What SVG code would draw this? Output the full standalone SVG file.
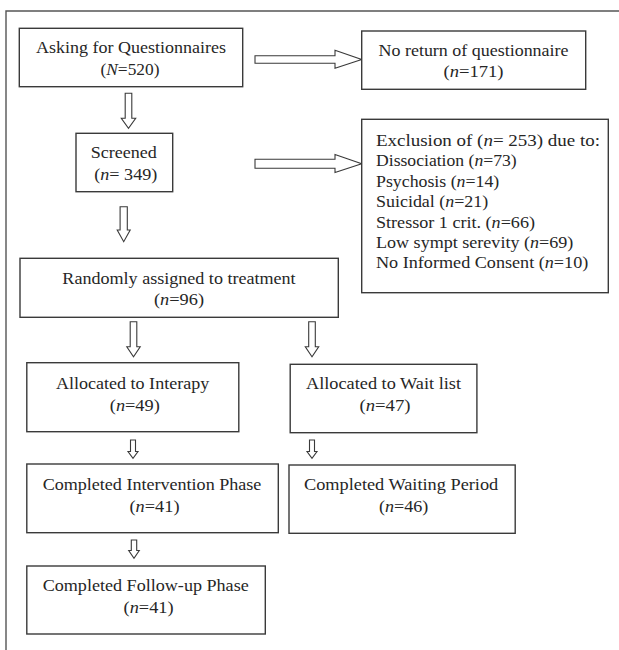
<svg xmlns="http://www.w3.org/2000/svg" width="619" height="650" viewBox="0 0 619 650">
<style>
.bg{fill:#ffffff}
.frame{fill:none;stroke:#555;stroke-width:1.4}
.box{fill:#ffffff;stroke:#3a3a3a;stroke-width:1.4}
.arr{fill:#ffffff;stroke:#3a3a3a;stroke-width:1.1;stroke-linejoin:miter}
text{font-family:"Liberation Serif","Times New Roman",serif;font-size:16px;fill:#262626}
.c{text-anchor:middle}
.i{font-style:italic}
</style>
<rect class="bg" x="0" y="0" width="619" height="650"/>
<path class="frame" d="M6 650 V11 H619"/>

<g id="connectors">
  <polygon class="arr" points="125.2,93.3 131.8,93.3 131.8,118.3 135.7,118.3 128.5,128.3 121.3,118.3 125.2,118.3"/>
  <polygon class="arr" points="120.1,206.7 127.3,206.7 127.3,230 130.2,230 123.7,241.7 117.2,230 120.1,230"/>
  <polygon class="arr" points="130.2,321.7 136.8,321.7 136.8,346.7 140.2,346.7 133.5,356.7 126.8,346.7 130.2,346.7"/>
  <polygon class="arr" points="308.7,321.7 315.3,321.7 315.3,346.7 318.7,346.7 312,356.7 305.3,346.7 308.7,346.7"/>
  <polygon class="arr" points="130.5,440 135.5,440 135.5,451.5 138,451.5 133,458.3 128,451.5 130.5,451.5"/>
  <polygon class="arr" points="309.5,440 314.5,440 314.5,451.5 317,451.5 312,458.3 307,451.5 309.5,451.5"/>
  <polygon class="arr" points="131.3,540 136.7,540 136.7,550.5 139.3,550.5 134,558.3 128.7,550.5 131.3,550.5"/>
  <polygon class="arr" points="255,55.7 335,55.7 335,50.3 361.7,59.5 335,68.3 335,63.3 255,63.3"/>
  <polygon class="arr" points="255,159.3 335,159.3 335,154.5 361.7,163.7 335,172.5 335,168.2 255,168.2"/>
</g>

<g id="n-asking">
  <rect class="box" x="19.3" y="28.3" width="223.4" height="58.4"/>
  <text class="c" x="131" y="53.3" textLength="190" lengthAdjust="spacingAndGlyphs">Asking for Questionnaires</text>
  <text class="c" x="130" y="74.5" textLength="59" lengthAdjust="spacingAndGlyphs">(<tspan class="i">N</tspan>=520)</text>
</g>
<g id="n-noreturn">
  <rect class="box" x="361.7" y="31" width="224" height="58.3"/>
  <text class="c" x="473.5" y="55.5" textLength="190" lengthAdjust="spacingAndGlyphs">No return of questionnaire</text>
  <text class="c" x="473.5" y="76.5" textLength="60" lengthAdjust="spacingAndGlyphs">(<tspan class="i">n</tspan>=171)</text>
</g>
<g id="n-screened">
  <rect class="box" x="76" y="133.3" width="96.7" height="58.4"/>
  <text class="c" x="123.7" y="158.3" textLength="66" lengthAdjust="spacingAndGlyphs">Screened</text>
  <text class="c" x="125.8" y="180" textLength="63" lengthAdjust="spacingAndGlyphs">(<tspan class="i">n</tspan>= 349)</text>
</g>
<g id="n-exclusion">
  <rect class="box" x="361.7" y="119.3" width="246.6" height="173.4"/>
  <text x="376" y="146" textLength="224" lengthAdjust="spacingAndGlyphs">Exclusion of (<tspan class="i">n</tspan>= 253) due to:</text>
  <text x="376" y="166.4" textLength="140.7" lengthAdjust="spacingAndGlyphs">Dissociation (<tspan class="i">n</tspan>=73)</text>
  <text x="376" y="186.8" textLength="123.3" lengthAdjust="spacingAndGlyphs">Psychosis (<tspan class="i">n</tspan>=14)</text>
  <text x="376" y="207.2" textLength="112.3" lengthAdjust="spacingAndGlyphs">Suicidal (<tspan class="i">n</tspan>=21)</text>
  <text x="376" y="227.6" textLength="159" lengthAdjust="spacingAndGlyphs">Stressor 1 crit. (<tspan class="i">n</tspan>=66)</text>
  <text x="376" y="248" textLength="197.3" lengthAdjust="spacingAndGlyphs">Low sympt serevity (<tspan class="i">n</tspan>=69)</text>
  <text x="376" y="268.4" textLength="212.3" lengthAdjust="spacingAndGlyphs">No Informed Consent (<tspan class="i">n</tspan>=10)</text>
</g>
<g id="n-random">
  <rect class="box" x="20" y="258.3" width="318.3" height="59"/>
  <text class="c" x="179" y="284" textLength="233.3" lengthAdjust="spacingAndGlyphs">Randomly assigned to treatment</text>
  <text class="c" x="179" y="305" textLength="50" lengthAdjust="spacingAndGlyphs">(<tspan class="i">n</tspan>=96)</text>
</g>
<g id="n-interapy">
  <rect class="box" x="26.8" y="362.7" width="212" height="69"/>
  <text class="c" x="132.6" y="389.3" textLength="153.2" lengthAdjust="spacingAndGlyphs">Allocated to Interapy</text>
  <text class="c" x="134.8" y="410.5" textLength="50" lengthAdjust="spacingAndGlyphs">(<tspan class="i">n</tspan>=49)</text>
</g>
<g id="n-waitlist">
  <rect class="box" x="290.2" y="364.3" width="186.7" height="68.4"/>
  <text class="c" x="383.5" y="389.3" textLength="155" lengthAdjust="spacingAndGlyphs">Allocated to Wait list</text>
  <text class="c" x="385" y="410.5" textLength="51" lengthAdjust="spacingAndGlyphs">(<tspan class="i">n</tspan>=47)</text>
</g>
<g id="n-intervention">
  <rect class="box" x="26.8" y="464" width="251.5" height="68.7"/>
  <text class="c" x="152" y="490" textLength="218.7" lengthAdjust="spacingAndGlyphs">Completed Intervention Phase</text>
  <text class="c" x="154.5" y="511.7" textLength="50" lengthAdjust="spacingAndGlyphs">(<tspan class="i">n</tspan>=41)</text>
</g>
<g id="n-waiting">
  <rect class="box" x="289" y="465" width="226.2" height="68.3"/>
  <text class="c" x="401.1" y="490" textLength="194.2" lengthAdjust="spacingAndGlyphs">Completed Waiting Period</text>
  <text class="c" x="403.6" y="511.7" textLength="49.3" lengthAdjust="spacingAndGlyphs">(<tspan class="i">n</tspan>=46)</text>
</g>
<g id="n-followup">
  <rect class="box" x="26.8" y="566" width="238.5" height="68"/>
  <text class="c" x="145.7" y="591" textLength="206.1" lengthAdjust="spacingAndGlyphs">Completed Follow-up Phase</text>
  <text class="c" x="148.6" y="612.7" textLength="50" lengthAdjust="spacingAndGlyphs">(<tspan class="i">n</tspan>=41)</text>
</g>
</svg>
